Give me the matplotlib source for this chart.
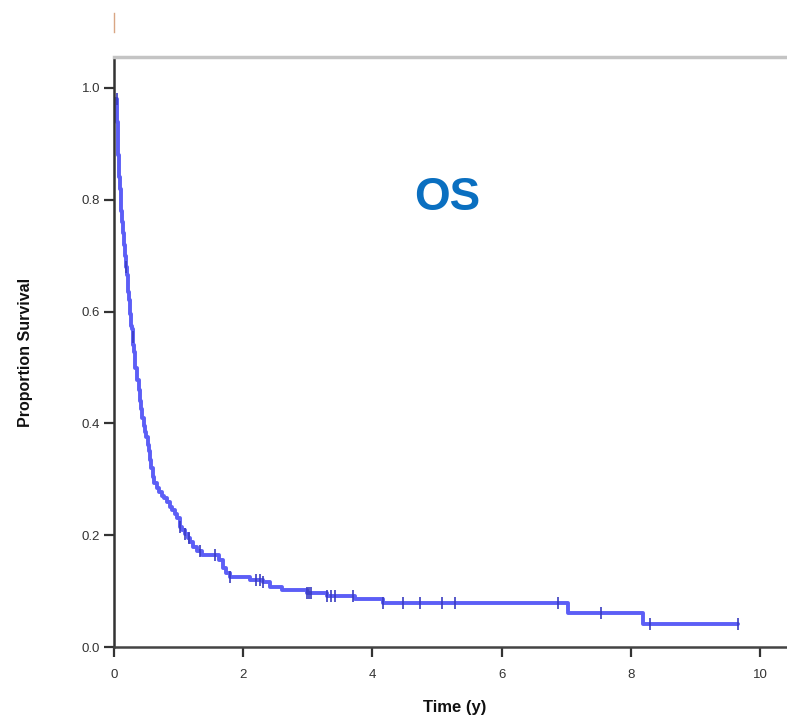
import numpy as np
import matplotlib
matplotlib.use("Agg")
import matplotlib.pyplot as plt
from matplotlib.lines import Line2D

# Kaplan-Meier step data
event_times = [0, 0.045, 0.05, 0.055, 0.06, 0.065, 0.075, 0.085, 0.095, 0.105, 0.115,
               0.13, 0.145, 0.16, 0.175, 0.19, 0.20, 0.21, 0.22, 0.23, 0.24, 0.25, 0.26,
               0.27, 0.28, 0.29, 0.30, 0.31, 0.32, 0.33, 0.35, 0.36, 0.38, 0.40, 0.42,
               0.44, 0.46, 0.48, 0.50, 0.52, 0.54, 0.56, 0.58, 0.60, 0.62, 0.66, 0.70,
               0.74, 0.78, 0.82, 0.86, 0.90, 0.94, 0.98, 1.02, 1.06, 1.10, 1.14, 1.18,
               1.23, 1.28, 1.36, 1.62, 1.68, 1.74, 1.80, 2.10, 2.30, 2.41, 2.60,
               2.99, 3.30, 3.73, 4.16, 7.03, 8.19]
survival = [0.98, 0.96, 0.94, 0.92, 0.90, 0.88, 0.86, 0.84, 0.82, 0.80, 0.78,
            0.76, 0.74, 0.72, 0.70, 0.68, 0.665, 0.65, 0.635, 0.62, 0.608, 0.596, 0.585,
            0.575, 0.568, 0.555, 0.54, 0.528, 0.515, 0.50, 0.49, 0.478, 0.46, 0.44, 0.425,
            0.41, 0.395, 0.385, 0.375, 0.362, 0.35, 0.335, 0.32, 0.305, 0.293, 0.285, 0.278,
            0.27, 0.266, 0.26, 0.25, 0.245, 0.238, 0.23, 0.215, 0.21, 0.202, 0.195, 0.188,
            0.179, 0.172, 0.165, 0.155, 0.142, 0.132, 0.125, 0.12, 0.116, 0.108, 0.102,
            0.097, 0.092, 0.086, 0.078, 0.061, 0.041]
end_time = 9.66
censor_times = [0.04, 0.19, 0.29, 1.02, 1.10, 1.16, 1.33, 1.56, 1.80, 2.20, 2.26, 2.30,
                2.99, 3.02, 3.05, 3.30, 3.36, 3.42, 3.70, 4.16, 4.47, 4.74, 5.08, 5.28,
                6.88, 7.54, 8.30, 9.66]
x_ticks = [0, 2, 4, 6, 8, 10]
y_ticks = [0.0, 0.2, 0.4, 0.6, 0.8, 1.0]
y_tick_labels = ["0.0", "0.2", "0.4", "0.6", "0.8", "1.0"]

plt.rcParams['font.family'] = ['Liberation Sans', 'DejaVu Sans']

fig = plt.figure(figsize=(7.87, 7.24), dpi=100)
ax = fig.add_axes([114/787, 1-647/724, 1-114/787, (647-57)/724])

t = np.array(event_times + [end_time])
s = np.array(survival + [survival[-1]])
ax.plot(t, s, drawstyle='steps-post', color='#5c5ef6', lw=2.8,
        solid_joinstyle='round', solid_capstyle='round')

ct = np.array(censor_times)
idx = np.searchsorted(np.array(event_times), ct, side='right') - 1
cs = np.array(survival)[idx]
ax.plot(ct, cs, ls='none', marker='|', ms=9, mew=1.2, color='#3a3cc0')

ax.set_xlim(0, (787-114)/64.6)
ax.set_ylim(0, (647-57)/559)
ax.set_xticks(x_ticks)
ax.set_xticklabels([str(v) for v in x_ticks])
ax.set_yticks(y_ticks)
ax.set_yticklabels(y_tick_labels)
ax.tick_params(axis='both', direction='out', length=7, width=1.6, color='#333333',
               labelsize=9.5, labelcolor='#333333')
ax.tick_params(axis='x', pad=9)
ax.tick_params(axis='y', pad=3)

ax.spines['right'].set_visible(False)
ax.spines['top'].set_color('#c4c4c4')
ax.spines['top'].set_linewidth(2.5)
ax.spines['left'].set_color('#333333')
ax.spines['left'].set_linewidth(1.8)
ax.spines['bottom'].set_color('#444444')
ax.spines['bottom'].set_linewidth(1.8)

ax.set_xlabel('Time (y)', fontsize=12, fontweight='bold', color='#111111')
ax.xaxis.set_label_coords((455-114)/673, -(700-647)/590)
ax.set_ylabel('Proportion Survival', fontsize=11.5, fontweight='bold', color='#111111')
ax.yaxis.set_label_coords(-(114-33)/673, 0.5)

ax.text((447-114)/673, (647-198)/590, 'OS', transform=ax.transAxes, ha='center', va='center',
        fontsize=33, fontweight='bold', color='#0a6fc0')

fig.add_artist(Line2D([114/787, 114/787], [1-13/724, 1-32/724], color='#d9a684', lw=1.0))

fig.savefig('out.png', dpi=100)
